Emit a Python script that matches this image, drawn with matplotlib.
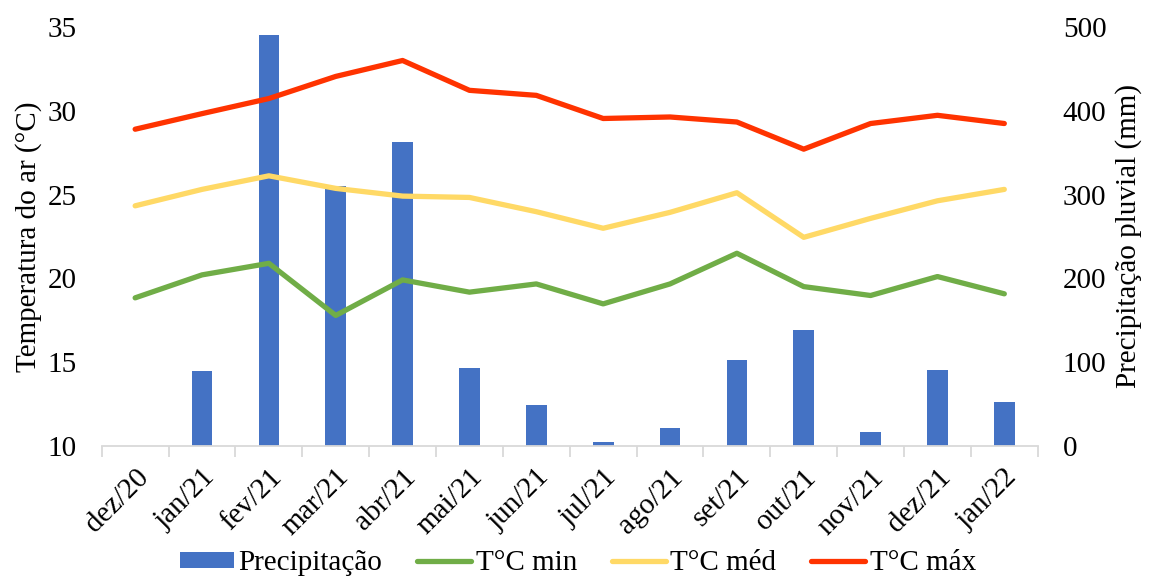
import matplotlib
matplotlib.use("Agg")
import matplotlib.pyplot as plt
import numpy as np

months = ["dez/20", "jan/21", "fev/21", "mar/21", "abr/21", "mai/21", "jun/21",
          "jul/21", "ago/21", "set/21", "out/21", "nov/21", "dez/21", "jan/22"]
precip = [0, 89, 491, 310, 363, 93, 49, 5, 22, 103, 138, 17, 91, 52]
t_min = [18.84, 20.21, 20.9, 17.79, 19.91, 19.18, 19.67, 18.48, 19.67, 21.5, 19.51, 18.98, 20.11, 19.08]
t_med = [24.33, 25.31, 26.12, 25.37, 24.91, 24.83, 23.98, 22.99, 23.94, 25.11, 22.45, 23.58, 24.63, 25.31]
t_max = [28.9, 29.83, 30.73, 32.05, 33.0, 31.22, 30.92, 29.54, 29.63, 29.33, 27.71, 29.24, 29.73, 29.24]

plt.rcParams['font.family'] = ['Liberation Serif', 'DejaVu Serif']
FS = 21

fig = plt.figure(figsize=(11.56, 5.80), dpi=100)
ax = fig.add_axes([0.088, 0.231, 0.8097, 0.7225])
ax2 = ax.twinx()

x = np.arange(len(months))
bars = ax2.bar(x, precip, width=0.31, color="#4472C4", label="Precipitação", zorder=1)
ax2.set_ylim(0, 500)
ax2.set_yticks([0, 100, 200, 300, 400, 500])

ax.set_zorder(ax2.get_zorder() + 1)
ax.patch.set_visible(False)
lw = 3.8
l1, = ax.plot(x, t_min, color="#70AD47", lw=lw, label="T°C min", solid_capstyle='round', solid_joinstyle='round')
l2, = ax.plot(x, t_med, color="#FFD966", lw=lw, label="T°C méd", solid_capstyle='round', solid_joinstyle='round')
l3, = ax.plot(x, t_max, color="#FF3300", lw=lw, label="T°C máx", solid_capstyle='round', solid_joinstyle='round')
ax.set_ylim(10, 35)
ax.set_yticks([10, 15, 20, 25, 30, 35])
ax.set_xlim(-0.5, len(months) - 0.5)

# x axis ticks between categories
ax.set_xticks(x)
ax.set_xticklabels(months, rotation=45, ha='right', rotation_mode='anchor', fontsize=FS)
ax.tick_params(axis='x', length=0, pad=13)
ax.set_xticks(np.arange(len(months) + 1) - 0.5, minor=True)
ax.tick_params(axis='x', which='minor', length=8, color='#D9D9D9', width=1.3)

for a in (ax, ax2):
    for s in ['top', 'left', 'right', 'bottom']:
        a.spines[s].set_visible(False)
ax.spines['bottom'].set_visible(True)
ax.spines['bottom'].set_color('#D9D9D9')
ax.spines['bottom'].set_linewidth(1.3)

ax.tick_params(axis='y', length=0, labelsize=FS, pad=18)
ax2.tick_params(axis='y', length=0, labelsize=FS, pad=18)

ax.set_ylabel("Temperatura do ar (°C)", fontsize=FS, labelpad=4)
ax2.set_ylabel("Precipitação pluvial (mm)", fontsize=FS, labelpad=6)

handles = [bars, l1, l2, l3]
labels = ["Precipitação", "T°C min", "T°C méd", "T°C máx"]
fig.legend(handles, labels, loc='center', bbox_to_anchor=(0.5, 0.029), ncol=4,
           frameon=False, fontsize=FS, handlelength=1.85, handleheight=0.5,
           handletextpad=0.15, columnspacing=1.2, borderpad=0)

fig.savefig("out.png", dpi=100)
